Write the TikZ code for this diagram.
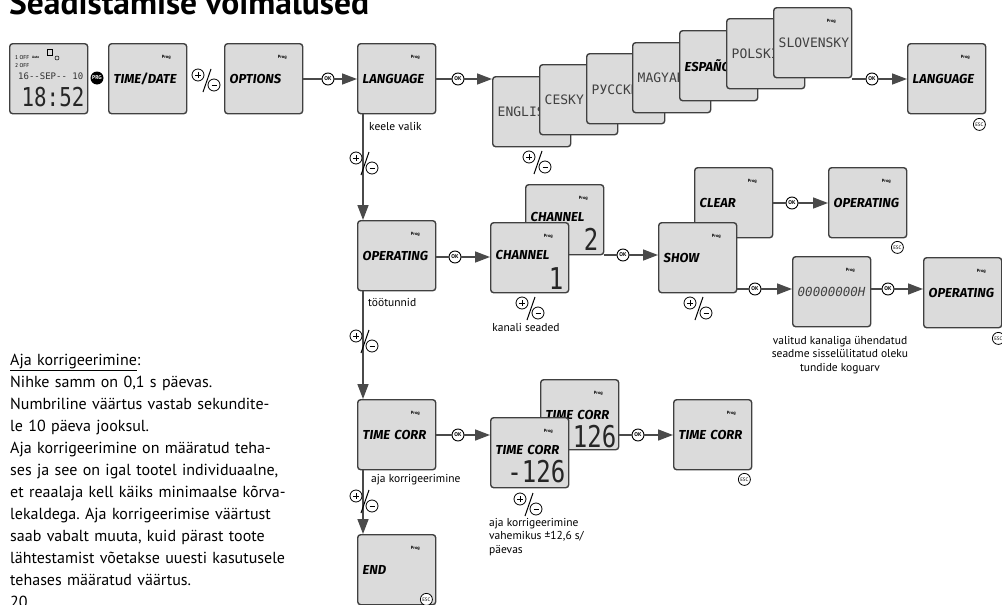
\documentclass[tikz,border=0pt]{standalone}
\usepackage{fontspec}
\setmainfont{PT Sans}
\newfontfamily\lcdfont{Fira Sans}
\newfontfamily\segfont{DejaVu Sans Mono}
\newfontfamily\bigsegfont{DejaVu Sans Mono}[FakeStretch=0.8]
\usepackage{xcolor}
\usetikzlibrary{arrows.meta, positioning}
\definecolor{lcdgray}{HTML}{DBDBDB}
\definecolor{framegray}{HTML}{404040}
\definecolor{linegray}{HTML}{4A4A4A}
\frenchspacing

\begin{document}
\begin{tikzpicture}[x=1pt, y=-1pt, >={Triangle[length=15pt, width=11pt]},
    display/.style={draw=framegray, line width=1.4pt, fill=lcdgray, rounded corners=3pt, anchor=north west,
        minimum width=78pt, minimum height=70pt, text width=68pt, inner xsep=5pt, inner ysep=0pt, align=left,
        font=\lcdfont\bfseries\itshape\fontsize{13}{13}\selectfont},
    screen/.style={display, label={[prog]north east:Prog}},
    prog/.style={anchor=center, xshift=-21pt, yshift=-14pt, inner sep=0pt, font=\bfseries\fontsize{4.5}{5}\selectfont},
    seg/.style={font=\segfont\fontsize{13}{13}\selectfont, text=black!75},
    withnum/.style={text depth=6pt},
    bigseg/.style={inner sep=0pt, font=\bigsegfont\fontsize{30}{30}\selectfont, text=black!85},
    tiny/.style={inner sep=0pt, anchor=west, font=\fontsize{5.5}{6}\selectfont},
    conn/.style={draw=linegray, line width=1.6pt},
    okbtn/.style={circle, draw, fill=white, line width=0.9pt, minimum size=12pt, inner sep=0pt, font=\bfseries\fontsize{5.5}{6}\selectfont},
    esc/.style={circle, draw, fill=white, line width=0.8pt, minimum size=12pt, inner sep=0pt, font=\fontsize{5}{5}\selectfont},
    prg/.style={circle, fill=black, text=white, minimum size=13pt, inner sep=0pt, font=\bfseries\fontsize{5.5}{6}\selectfont},
    small/.style={inner sep=0pt, font=\fontsize{11.5}{13.5}\selectfont},
    pm/.pic={
        \draw[fill=white, line width=0.8pt] (-7,-5) circle (6pt) (9,5) circle (6pt);
        \draw[line width=0.8pt] (-10,-5) -- (-4,-5) (-7,-8) -- (-7,-2) (6.5,5) -- (11.5,5);
        \draw[line width=1pt] (6,-11) -- (-2,12);
    }]
    \useasboundingbox (0,0) rectangle (1002,605);

    \node[anchor=base west, inner sep=0pt, font=\bfseries\fontsize{33.5}{34}\selectfont] (title) at (9,15) {Seadistamise võimalused};

    % clock and first row
    \node[display] (clock) at (9,43) {};
    \draw[line width=0.6pt] (47,49) rectangle (52,55);
    \node[tiny] (off1) at (15,58) {1 OFF};
    \node[tiny, font=\bfseries\fontsize{3.5}{4}\selectfont] (auto) at (32,57.5) {Auto};
    \draw[line width=0.5pt] (57,58) circle (2pt);
    \node[tiny] (off2) at (15,65.5) {2 OFF};
    \node[tiny, font=\segfont\fontsize{9}{9}\selectfont, text=black!80] (date) at (18,76) {16--SEP-- 10};
    \node[inner sep=0pt, font=\bigsegfont\fontsize{26}{26}\selectfont, text=black!85] (time) at (53,97) {18:52};
    \node[prg] (prgkey) at (97,78) {PRG};
    \node[screen] (timedate) at (108,43) {TIME/DATE};
    \pic at (205,80) {pm};
    \node[screen] (options) at (224,43) {OPTIONS};
    \node[okbtn] (ok1) at (328,79) {OK};

    % language
    \node[screen] (language) at (357,43) {LANGUAGE};
    \node[okbtn] (ok2) at (458,79) {OK};
    \node[screen, seg] (english) at (492,76) {ENGLISH};
    \node[screen, seg] (cesky) at (539,64) {CESKY};
    \node[screen, seg] (russian) at (586,53) {РУССКИЙ};
    \node[screen, seg] (magyar) at (632,42) {MAGYAR};
    \node[screen] (espanol) at (679,30) {ESPAÑOL};
    \node[screen, seg] (polski) at (726,18) {POLSKI};
    \node[screen, seg] (slovensky) at (773,7) {SLOVENSKY};
    \pic at (536,162) {pm};
    \node[okbtn] (ok3) at (872,79) {OK};
    \node[screen] (language2) at (907,43) {LANGUAGE};
    \node[esc] (esc1) at ([xshift=-7pt, yshift=-10pt]language2.south east) {ESC};
    \node[small, anchor=west] (keele) at (369,126) {keele valik};

    % operating hours
    \node[screen] (operating) at (357,220) {OPERATING};
    \node[small, anchor=west] (tootunnid) at (368,302) {töötunnid};
    \node[okbtn] (ok4) at (455,257) {OK};
    \node[screen, withnum] (channel2) at (525,184) {CHANNEL};
    \node[bigseg, anchor=south east] (channel2-num) at ([xshift=-6pt, yshift=5pt]channel2.south east) {2};
    \node[screen, withnum] (channel1) at (490,222) {CHANNEL};
    \node[bigseg, anchor=south east] (channel1-num) at ([xshift=-6pt, yshift=4pt]channel1.south east) {1};
    \pic at (529,308) {pm};
    \node[small] (kanali) at (526,327) {kanali seaded};
    \node[okbtn] (ok5) at (623,255) {OK};
    \node[screen] (clear) at (694,167) {CLEAR};
    \node[screen] (show) at (658,222) {SHOW};
    \pic at (697,308) {pm};
    \node[okbtn] (ok6) at (792,203) {OK};
    \node[screen] (operating2) at (828,167) {OPERATING};
    \node[esc] (esc2) at ([xshift=-10pt, yshift=-9pt]operating2.south east) {ESC};
    \node[okbtn] (ok7) at (755,289) {OK};
    \node[screen, seg, font=\segfont\itshape\fontsize{12.5}{13}\selectfont] (hours) at (792,256) {00000000H};
    \node[okbtn] (ok8) at (888,289) {OK};
    \node[screen] (operating3) at (923,257) {OPERATING};
    \node[esc] (esc3) at ([xshift=-4pt, yshift=-10pt]operating3.south east) {ESC};
    \node[small, align=center] (valitud) at (840,355) {valitud kanaliga ühendatud\\seadme sisselülitatud oleku\\tundide koguarv};

    % time correction
    \node[screen] (timecorr) at (357,399) {TIME CORR};
    \node[small, anchor=west] (ajakorr) at (371,480) {aja korrigeerimine};
    \node[okbtn] (ok9) at (458,435) {OK};
    \node[screen] (tcplus) at (540,379) {TIME CORR};
    \node[bigseg, anchor=south east] (tcplus-num) at ([xshift=-3pt, yshift=2pt]tcplus.south east) {126};
    \node[screen, withnum] (tcminus) at (490,417) {TIME CORR};
    \node[bigseg, anchor=south east] (tcminus-num) at ([xshift=-4pt, yshift=5pt]tcminus.south east) {-126};
    \pic at (527,504) {pm};
    \node[small, anchor=north west, align=left] (vahemik) at (489,518) {aja korrigeerimine\\vahemikus ±12,6 s/\\päevas};
    \node[okbtn] (ok10) at (638,435) {OK};
    \node[screen] (timecorr2) at (673,399) {TIME CORR};
    \node[esc] (esc4) at ([xshift=-8pt, yshift=-9pt]timecorr2.south east) {ESC};
    \node[screen] (end) at (357,534) {END};
    \node[esc] (esc5) at ([xshift=-10pt, yshift=6pt]end.south east) {ESC};

    % connectors
    \draw[conn] (ok1 -| options.east) -- (ok1);
    \draw[conn, ->] (ok1) -- (ok1 -| language.west);
    \draw[conn] (ok2 -| language.east) -- (ok2);
    \draw[conn, ->] (ok2) -- (ok2 -| english.west);
    \draw[conn] (ok3 -| slovensky.east) -- (ok3);
    \draw[conn, ->] (ok3) -- (ok3 -| language2.west);
    \draw[conn] (ok4 -| operating.east) -- (ok4);
    \draw[conn, ->] (ok4) -- (ok4 -| channel1.west);
    \draw[conn] (ok5 -| channel2.east) -- (ok5);
    \draw[conn, ->] (ok5) -- (ok5 -| show.west);
    \draw[conn] (ok6 -| clear.east) -- (ok6);
    \draw[conn, ->] (ok6) -- (ok6 -| operating2.west);
    \draw[conn] (ok7 -| show.east) -- (ok7);
    \draw[conn, ->] (ok7) -- (ok7 -| hours.west);
    \draw[conn] (ok8 -| hours.east) -- (ok8);
    \draw[conn, ->] (ok8) -- (ok8 -| operating3.west);
    \draw[conn] (ok9 -| timecorr.east) -- (ok9);
    \draw[conn, ->] (ok9) -- (ok9 -| tcminus.west);
    \draw[conn] (ok10 -| tcplus.east) -- (ok10);
    \draw[conn, ->] (ok10) -- (ok10 -| timecorr2.west);
    \draw[conn, ->] ([xshift=6pt]language.south west) -- ([xshift=6pt]operating.north west);
    \draw[conn, ->] ([xshift=6pt]operating.south west) -- ([xshift=6pt]timecorr.north west);
    \draw[conn, ->] ([xshift=6pt]timecorr.south west) -- ([xshift=6pt]end.north west);
    \pic at (363,163) {pm};
    \pic at (363,341) {pm};
    \pic at (363,501) {pm};

    % note on the left
    \node[anchor=north west, inner sep=0pt, text width=295pt, align=left, font=\fontsize{16}{22}\selectfont] (note) at (10,353.5) {%
        \underline{Aja korrigeerimine}:\\
        Nihke samm on 0,1 s päevas.\\
        \makebox[295pt][s]{Numbriline väärtus vastab sekundite-}\\
        le 10 päeva jooksul.\\
        \makebox[295pt][s]{Aja korrigeerimine on määratud teha-}\\
        \makebox[295pt][s]{ses ja see on igal tootel individuaalne,}\\
        \makebox[295pt][s]{et reaalaja kell käiks minimaalse kõrva-}\\
        \makebox[295pt][s]{lekaldega. Aja korrigeerimise väärtust}\\
        \makebox[295pt][s]{saab vabalt muuta, kuid pärast toote}\\
        \makebox[295pt][s]{lähtestamist võetakse uuesti kasutusele}\\
        tehases määratud väärtus.\\
        20};
\end{tikzpicture}
\end{document}
